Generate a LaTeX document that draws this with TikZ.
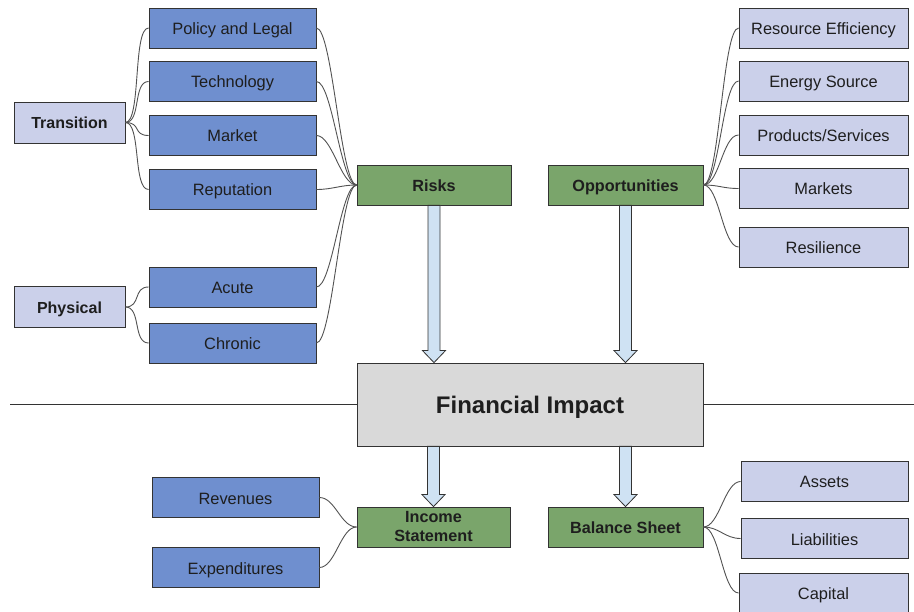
\documentclass[tikz,border=0pt]{standalone}
\usepackage{fontspec}
\setmainfont{Liberation Sans}
\usepackage{tikz}
\usetikzlibrary{calc}
\definecolor{itemblue}{RGB}{111,143,207}
\definecolor{paleblue}{RGB}{203,208,234}
\definecolor{headgreen}{RGB}{122,165,107}
\definecolor{impactgray}{RGB}{217,217,217}
\definecolor{arrowblue}{RGB}{207,226,243}
\definecolor{edge}{RGB}{51,51,51}
\definecolor{ink}{RGB}{30,30,30}

% wide hollow arrow down from #1 onto the top edge of #2, in the column of #3
\newcommand{\flowarrow}[3]{%
  \draw[flow] ($(#3.center |- #1.south)+(-6,0)$) -- ($(#3.center |- #2.north)+(-6,-12)$)
    -- ($(#3.center |- #2.north)+(-11.5,-12)$) -- (#3.center |- #2.north)
    -- ($(#3.center |- #2.north)+(11.5,-12)$) -- ($(#3.center |- #2.north)+(6,-12)$)
    -- ($(#3.center |- #1.south)+(6,0)$) -- cycle;}

\begin{document}
\begin{tikzpicture}[x=1pt,y=-1pt,
    box/.style={draw=edge, line width=0.8pt, inner sep=0pt, text=ink, align=center, text height=13pt, text depth=0pt},
    item/.style={box, fill=itemblue, minimum width=167pt, minimum height=40pt, font=\fontsize{16.4}{19}\selectfont},
    opp/.style={box, fill=paleblue, minimum width=169pt, minimum height=40pt, font=\fontsize{16.4}{19}\selectfont},
    group/.style={box, fill=paleblue, minimum width=111pt, minimum height=41pt, font=\bfseries\fontsize{16}{19}\selectfont},
    head/.style={box, fill=headgreen, minimum width=154pt, minimum height=40pt, font=\bfseries\fontsize{16.2}{19}\selectfont},
    link/.style={draw=edge!85, line width=0.9pt, out=0, in=180, distance=16pt},
    flow/.style={draw=edge, line width=0.8pt, fill=arrowblue, line join=miter}]
    \useasboundingbox (0,0) rectangle (914,612);

    % Risks side
    \node[group] (transition) at (69.5,122.5) {Transition};
    \node[group] (physical) at (69.5,307) {Physical};
    \node[item] (policy) at (232.5,28) {Policy and Legal};
    \node[item] (technology) at (232.5,81.5) {Technology};
    \node[item] (market) at (232.5,135.5) {Market};
    \node[item] (reputation) at (232.5,189.5) {Reputation};
    \node[item] (acute) at (232.5,287) {Acute};
    \node[item] (chronic) at (232.5,343) {Chronic};
    \node[head] (risks) at (434,185) {Risks};

    \draw[link] (transition.east) to (policy.west);
    \draw[link] (transition.east) to (technology.west);
    \draw[link] (transition.east) to (market.west);
    \draw[link] (transition.east) to (reputation.west);
    \draw[link] (physical.east) to (acute.west);
    \draw[link] (physical.east) to (chronic.west);
    \draw[link] (policy.east) to (risks.west);
    \draw[link] (technology.east) to (risks.west);
    \draw[link] (market.east) to (risks.west);
    \draw[link] (reputation.east) to (risks.west);
    \draw[link] (acute.east) to (risks.west);
    \draw[link] (chronic.east) to (risks.west);

    % Opportunities side
    \node[head, minimum width=155pt] (opportunities) at (625.5,185) {Opportunities};
    \node[opp] (efficiency) at (823.5,28) {Resource Efficiency};
    \node[opp] (energy) at (823.5,81) {Energy Source};
    \node[opp] (products) at (823.5,135) {Products/Services};
    \node[opp] (markets) at (823.5,188.5) {Markets};
    \node[opp] (resilience) at (823.5,247) {Resilience};

    \draw[link] (opportunities.east) to (efficiency.west);
    \draw[link] (opportunities.east) to (energy.west);
    \draw[link] (opportunities.east) to (products.west);
    \draw[link] (opportunities.east) to (markets.west);
    \draw[link] (opportunities.east) to (resilience.west);

    % Financial impact and divider
    \node[box, fill=impactgray, minimum width=346pt, minimum height=83pt, text height=18.2pt,
          font=\bfseries\fontsize{24}{28}\selectfont] (impact) at (530,404.5) {Financial Impact};
    \coordinate (divleft) at (10,404.5);
    \coordinate (divright) at (914,404.5);
    \draw[edge, line width=0.8pt] (divleft) -- (impact.west);
    \draw[edge, line width=0.8pt] (impact.east) -- (divright);

    % Statements
    \node[head, minimum width=153pt, text height={}, text depth={}] (income) at (433.5,527) {Income\\Statement};
    \node[head, minimum width=155pt] (balance) at (625.5,527) {Balance Sheet};
    \node[item] (revenues) at (235.5,497.5) {Revenues};
    \node[item] (expenditures) at (235.5,567.5) {Expenditures};
    \node[opp, minimum width=167pt] (assets) at (824.5,481.5) {Assets};
    \node[opp, minimum width=167pt] (liabilities) at (824.5,538.5) {Liabilities};
    \node[opp] (capital) at (823.5,593) {Capital};

    \draw[link] (revenues.east) to (income.west);
    \draw[link] (expenditures.east) to (income.west);
    \draw[link] (balance.east) to (assets.west);
    \draw[link] (balance.east) to (liabilities.west);
    \draw[link] (balance.east) to (capital.west);

    % Flow arrows
    \flowarrow{risks}{impact}{risks}
    \flowarrow{opportunities}{impact}{opportunities}
    \flowarrow{impact}{income}{income}
    \flowarrow{impact}{balance}{balance}
\end{tikzpicture}
\end{document}
